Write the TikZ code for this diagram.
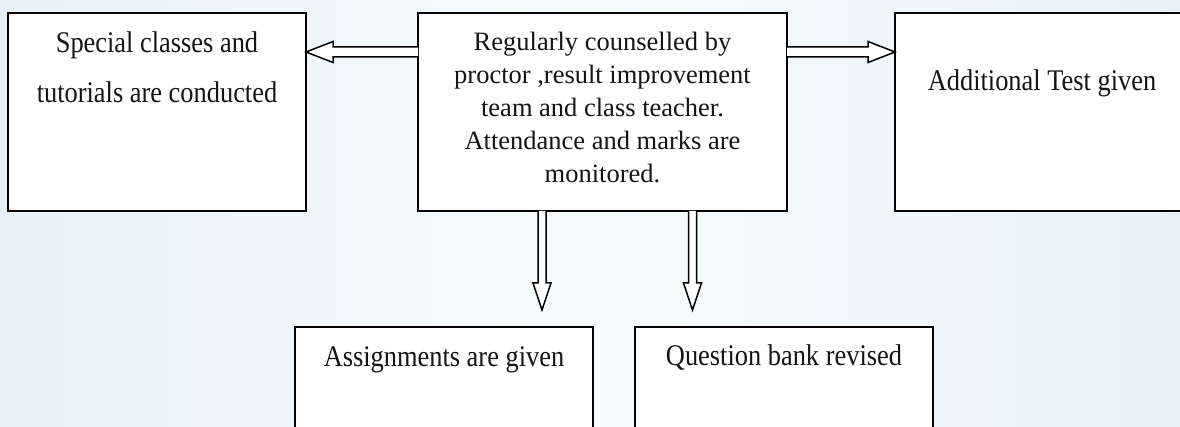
\documentclass[tikz,border=0pt]{standalone}
\usepackage{fontspec}
\setmainfont{Liberation Serif}
\newfontfamily\outerfont{Liberation Serif}[FakeStretch=0.88]
\usetikzlibrary{calc}
\definecolor{bgedge}{RGB}{231,242,247}
\definecolor{bgmid}{RGB}{248,251,252}
\begin{document}
\begin{tikzpicture}[x=1pt,y=1pt,
  box/.style={draw=black, line width=2pt, fill=white, inner sep=0pt, outer sep=0pt},
  blk/.style={draw=black, line width=1.5pt, fill=white, line join=miter},
  otext/.style={inner sep=0pt, anchor=north, align=center, font=\outerfont\fontsize{30}{50}\selectfont, text=black!92},
  ctext/.style={inner sep=0pt, anchor=north, align=center, font=\fontsize{26.5}{33}\selectfont, text=black!92}]
\clip (0,0) rectangle (1180,427);
\shade[left color=bgedge, right color=bgedge, middle color=bgmid] (0,0) rectangle (1180,427);
% boxes
\node[box, minimum width=298pt, minimum height=198pt] (L) at (157,315) {};
\node[box, minimum width=369pt, minimum height=198pt] (C) at (602.5,315) {};
\node[box, minimum width=294pt, minimum height=198pt] (R) at (1042,315) {};
\node[box, minimum width=298pt, minimum height=143pt] (BL) at (444,28.5) {};
\node[box, minimum width=298pt, minimum height=143pt] (BR) at (784,28.5) {};
% texts
\node[otext] (Ltxt) at ($(L.north)+(0,-18.5)$) {Special classes and\\tutorials are conducted};
\node[ctext] (Ctxt) at ($(C.north)+(0,-19)$) {Regularly counselled by\\proctor ,result improvement\\team and class teacher.\\Attendance and marks are\\monitored.};
\node[otext] (Rtxt) at ($(R.north)+(0,-56.5)$) {Additional Test given};
\node[otext] (BLtxt) at ($(BL.north)+(0,-19.5)$) {Assignments are given};
\node[otext] (BRtxt) at ($(BR.north)+(0,-17.5)$) {Question bank revised};
% left arrow
\coordinate (la) at ($(C.north west)+(0,-39)$);
\coordinate (lt) at (la -| L.east);
\draw[blk] ($(la)+(0,5)$) -- ($(lt)+(27,5)$) -- ($(lt)+(27,10.5)$) -- (lt) -- ($(lt)+(27,-10.5)$) -- ($(lt)+(27,-5)$) -- ($(la)+(0,-5)$);
% right arrow
\coordinate (ra) at ($(C.north east)+(0,-39)$);
\coordinate (rt) at (ra -| R.west);
\draw[blk] ($(ra)+(0,5)$) -- ($(rt)+(-27,5)$) -- ($(rt)+(-27,10.5)$) -- (rt) -- ($(rt)+(-27,-10.5)$) -- ($(rt)+(-27,-5)$) -- ($(ra)+(0,-5)$);
% down arrows
\coordinate (da) at ($(C.south west)+(124,0)$);
\coordinate (dt) at ($(da |- BL.north)+(0,17)$);
\draw[blk] ($(da)+(-4,0)$) -- ($(dt)+(-4,27)$) -- ($(dt)+(-9,27)$) -- (dt) -- ($(dt)+(9,27)$) -- ($(dt)+(4,27)$) -- ($(da)+(4,0)$);
\coordinate (db) at ($(C.south west)+(274.5,0)$);
\coordinate (dbt) at ($(db |- BR.north)+(0,17)$);
\draw[blk] ($(db)+(-4,0)$) -- ($(dbt)+(-4,27)$) -- ($(dbt)+(-9,27)$) -- (dbt) -- ($(dbt)+(9,27)$) -- ($(dbt)+(4,27)$) -- ($(db)+(4,0)$);
\end{tikzpicture}
\end{document}
